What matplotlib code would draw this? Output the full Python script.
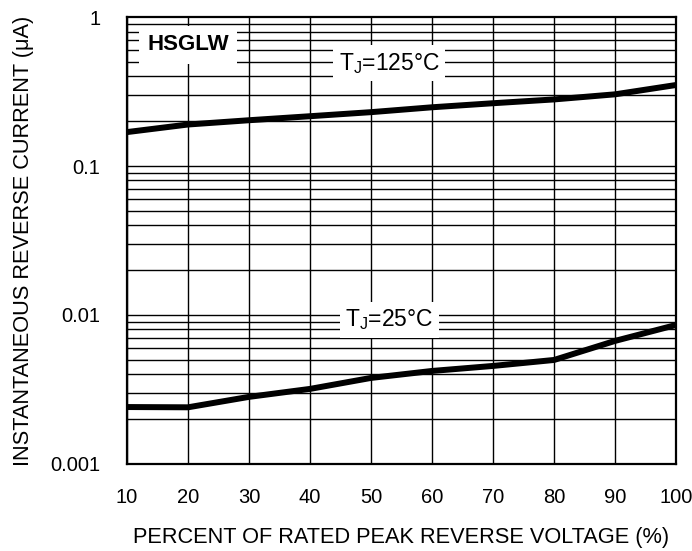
import matplotlib.pyplot as plt
import numpy as np

plt.rcParams["font.family"] = ["Liberation Sans", "DejaVu Sans"]

# percent of rated peak reverse voltage
voltage_pct = [10, 20, 30, 40, 50, 60, 70, 80, 90, 100]
# reverse current (uA)
ir_125c = [0.169, 0.190, 0.203, 0.216, 0.230, 0.248, 0.264, 0.280, 0.303, 0.350]
ir_25c = [0.00241, 0.00240, 0.00282, 0.00319, 0.00378, 0.00421, 0.00455, 0.00499, 0.0067, 0.00857]

x_ticks = [10, 20, 30, 40, 50, 60, 70, 80, 90, 100]
y_ticks = [0.001, 0.01, 0.1, 1]
y_tick_labels = ["0.001", "0.01", "0.1", "1"]


def main():
    fig = plt.figure(figsize=(6.92, 5.51), dpi=100)
    ax = fig.add_axes([0.1835, 0.158, 0.7935, 0.811])

    ax.set_yscale("log")
    ax.set_xlim(10, 100)
    ax.set_ylim(0.001, 1)

    # log paper grid
    for dec in [0.001, 0.01, 0.1]:
        for m in range(1, 10):
            ax.axhline(dec * m, color="black", lw=1.0, zorder=1)
    for xv in x_ticks:
        ax.axvline(xv, color="black", lw=1.0, zorder=1)

    ax.plot(voltage_pct, ir_125c, color="black", lw=4.3, solid_capstyle="butt", zorder=3)
    ax.plot(voltage_pct, ir_25c, color="black", lw=4.3, solid_capstyle="butt", zorder=3)

    box = dict(facecolor="white", edgecolor="none", pad=4)
    ax.text(13.3, 0.65, "HSGLW", fontsize=16, fontweight="bold", ha="left",
            va="center", bbox=dict(facecolor="white", edgecolor="none", pad=6), zorder=4)
    ax.text(53, 0.49, r"T$_\mathregular{J}$=125°C", fontsize=16.5,
            ha="center", va="center", bbox=box, zorder=4)
    ax.text(53, 0.00925, r"T$_\mathregular{J}$=25°C", fontsize=16.5,
            ha="center", va="center", bbox=box, zorder=4)

    ax.set_xticks(x_ticks)
    ax.set_yticks(y_ticks)
    ax.set_yticklabels(y_tick_labels)
    ax.minorticks_off()
    ax.tick_params(axis="both", length=0, labelsize=14.5)
    ax.tick_params(axis="x", pad=17)
    ax.tick_params(axis="y", pad=19)
    for sp in ax.spines.values():
        sp.set_linewidth(1.6)
        sp.set_zorder(5)

    ax.set_xlabel("PERCENT OF RATED PEAK REVERSE VOLTAGE (%)", fontsize=15.7, labelpad=15)
    ax.set_ylabel("INSTANTANEOUS REVERSE CURRENT (μA)", fontsize=15.7, labelpad=12)

    fig.savefig("out.png", dpi=100)
    plt.close(fig)


if __name__ == "__main__":
    main()
